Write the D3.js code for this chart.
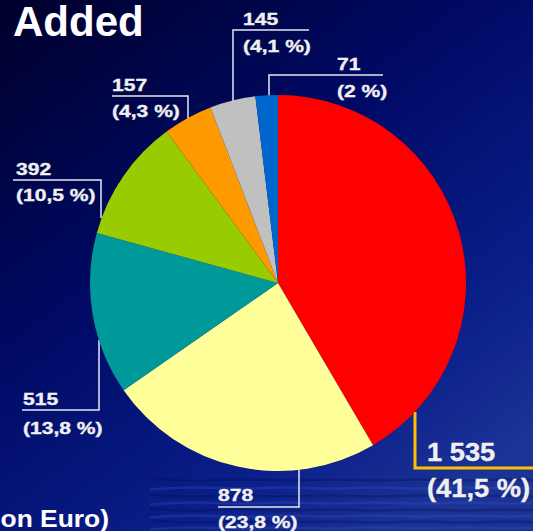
<!DOCTYPE html>
<html>
<head>
<meta charset="utf-8">
<script src="https://cdn.jsdelivr.net/npm/d3@7/dist/d3.min.js"></script>
<style>
  html, body { margin: 0; padding: 0; background: #000030; }
  svg { display: block; }
  text { font-family: "Liberation Sans", Arial, sans-serif; font-weight: bold; }
</style>
</head>
<body>
<svg id="chart" width="533" height="531"></svg>
<script>
// ---- data ----
const categories = ["A", "B", "C", "D", "E", "F", "G"];
const values = [1535, 878, 515, 392, 157, 145, 71];
const valueLabels = ["1 535", "878", "515", "392", "157", "145", "71"];
const percentLabels = ["(41,5 %)", "(23,8 %)", "(13,8 %)", "(10,5 %)", "(4,3 %)", "(4,1 %)", "(2 %)"];
const colors = ["#FF0000", "#FFFF99", "#009999", "#99CC00", "#FF9900", "#C0C0C0", "#0066CC"];
const title = "Added";
const unitNote = "(Million Euro)";

// ---- label layout (annotation positions) ----
const labelLayout = [
  { tx: 427, vy: 461, py: 497, size: 26, sx: 1.05, stroke: "#FFC000", sw: 3, pts: [[415, 412], [415, 468], [540, 468]] },
  { tx: 218, vy: 501, py: 528, size: 17, sx: 1.24, stroke: "#E6E6F0", sw: 1.5, pts: [[299, 465], [299, 507], [218, 507]] },
  { tx: 23,  vy: 405, py: 434, size: 17, sx: 1.24, stroke: "#E6E6F0", sw: 1.5, pts: [[99, 340], [99, 410], [22, 410]] },
  { tx: 16,  vy: 175, py: 201, size: 17, sx: 1.24, stroke: "#E6E6F0", sw: 1.5, pts: [[13, 180], [101, 180], [101, 218]] },
  { tx: 112, vy: 91,  py: 117, size: 17, sx: 1.24, stroke: "#E6E6F0", sw: 1.5, pts: [[112, 96], [188, 96], [188, 125]] },
  { tx: 243, vy: 25,  py: 52,  size: 17, sx: 1.24, stroke: "#E6E6F0", sw: 1.5, pts: [[309, 30], [233, 30], [233, 106]] },
  { tx: 337, vy: 70,  py: 97,  size: 17, sx: 1.24, stroke: "#E6E6F0", sw: 1.5, pts: [[383, 75], [269, 75], [269, 100]] }
];

const W = 533, H = 531;
const cx = 278, cy = 283, R = 188;

const svg = d3.select("#chart");
const defs = svg.append("defs");

// background gradient
const bg = defs.append("linearGradient").attr("id", "bg")
  .attr("x1", "0").attr("y1", "0").attr("x2", "0.75").attr("y2", "1");
bg.append("stop").attr("offset", "0%").attr("stop-color", "#00002A");
bg.append("stop").attr("offset", "45%").attr("stop-color", "#000A66");
bg.append("stop").attr("offset", "80%").attr("stop-color", "#0A1F8A");
bg.append("stop").attr("offset", "100%").attr("stop-color", "#1B3296");
svg.append("rect").attr("width", W).attr("height", H).attr("fill", "url(#bg)");

// subtle water ripples at the bottom
const rip = svg.append("g").attr("opacity", 0.3);
const rippleRows = [480, 488, 496, 503, 510, 516, 522, 528];
const line = d3.line().curve(d3.curveBasis);
rippleRows.forEach((y, i) => {
  const pts = d3.range(0, 10).map(k => [150 + k * 45, y + ((k + i) % 2 ? 1.5 : -1.5)]);
  rip.append("path").attr("d", line(pts))
    .attr("fill", "none")
    .attr("stroke", i % 2 ? "#3a55c0" : "#050d45")
    .attr("stroke-width", 2.5);
});

// leader lines (drawn under the pie)
svg.append("g").selectAll("polyline").data(labelLayout).join("polyline")
  .attr("points", d => d.pts.map(p => p.join(",")).join(" "))
  .attr("fill", "none")
  .attr("stroke", d => d.stroke)
  .attr("stroke-width", d => d.sw);

// pie
const pie = d3.pie().sort(null).value(d => d);
const arc = d3.arc().innerRadius(0).outerRadius(R);
svg.append("g").attr("transform", `translate(${cx},${cy})`)
  .selectAll("path").data(pie(values)).join("path")
  .attr("d", arc)
  .attr("fill", (d, i) => colors[i]);

// labels
const lg = svg.append("g");
labelLayout.forEach((L, i) => {
  [[L.vy, valueLabels[i]], [L.py, percentLabels[i]]].forEach(([y, t]) => {
    lg.append("text")
      .attr("transform", `translate(${L.tx},${y}) scale(${L.sx},1)`)
      .attr("font-size", L.size).attr("fill", "#F0F0F0")
      .attr("stroke", "#F0F0F0").attr("stroke-width", 0.35)
      .text(t);
  });
});

// title
svg.append("text").attr("x", 13).attr("y", 36)
  .attr("font-size", 42).attr("fill", "#FFFFFF")
  .text(title);

// unit note (cut off at the left edge, as in the original)
svg.append("text")
  .attr("transform", "translate(109,527) scale(1.1,1)")
  .attr("text-anchor", "end")
  .attr("font-size", 24).attr("fill", "#FFFFFF")
  .text(unitNote);
</script>
</body>
</html>
